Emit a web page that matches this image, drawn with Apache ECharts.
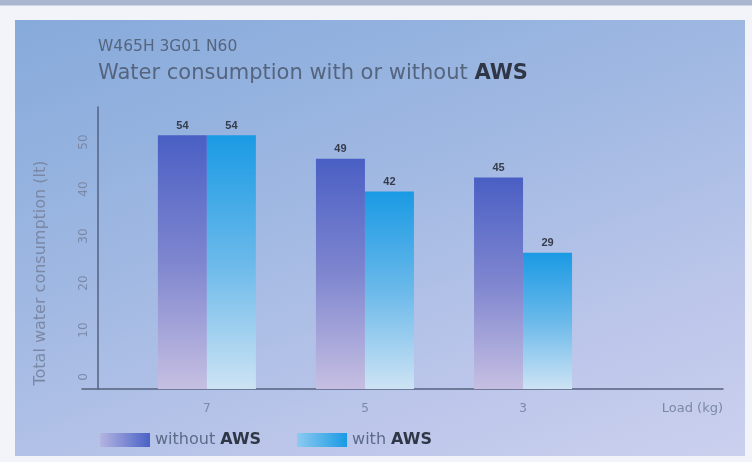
<!DOCTYPE html>
<html>
<head>
<meta charset="utf-8">
<script src="https://cdn.jsdelivr.net/npm/echarts@6/dist/echarts.min.js"></script>
<style>
  html, body { margin: 0; padding: 0; }
  body { width: 752px; height: 462px; position: relative; overflow: hidden;
         background: linear-gradient(180deg, #aab6cf 0px, #aab6cf 5px, #f2f4fa 6px); }
  #panel { position: absolute; left: 15px; top: 20px; width: 730px; height: 436px;
           background: linear-gradient(160deg, #86aadb 0%, #9fb8e2 40%, #bcc6ea 75%, #cbd0ee 100%); }
  #chart { position: absolute; left: 0; top: 0; width: 752px; height: 462px; }
</style>
</head>
<body>
<div id="panel"></div>
<div id="chart"></div>
<script>
// load (kg) for each group, left to right
const loads = [7, 5, 3]
const withoutAws = [54, 49, 45]
const withAws = [54, 42, 29]
const yTicks = [0, 10, 20, 30, 40, 50]

const chart = echarts.init(document.getElementById('chart'))

const fontFamily = '"DejaVu Sans", "Liberation Sans", sans-serif'
const labelFont = '"Liberation Sans", Arial, sans-serif'

// value labels above the bars
const labelOpts = {
  show: true,
  position: 'top',
  distance: 4,
  formatter: p => p.value[1],
  color: '#363c4c',
  fontSize: 11,
  fontWeight: 'bold',
  fontFamily: labelFont
}

const option = {
  backgroundColor: 'transparent',
  title: {
    left: 93,
    top: 34,
    text: 'W465H 3G01 N60',
    subtext: '{n|Water consumption with or without }{b|AWS}',
    itemGap: 8,
    textStyle: { color: '#56657f', fontSize: 15.5, fontWeight: 'normal', fontFamily },
    subtextStyle: {
      rich: {
        n: { color: '#56657f', fontSize: 21, fontFamily },
        b: { color: '#2f3747', fontSize: 21, fontWeight: 'bold', fontFamily }
      }
    }
  },
  legend: {
    left: 95,
    top: 427,
    itemWidth: 50,
    itemHeight: 14,
    itemGap: 36,
    icon: 'rect',
    data: [
      {
        name: 'without AWS',
        itemStyle: {
          color: new echarts.graphic.LinearGradient(0, 0, 1, 0, [
            { offset: 0, color: '#b4b4e0' },
            { offset: 1, color: '#4a62c6' }
          ])
        }
      },
      {
        name: 'with AWS',
        itemStyle: {
          color: new echarts.graphic.LinearGradient(0, 0, 1, 0, [
            { offset: 0, color: '#8ccaf0' },
            { offset: 1, color: '#1a9ae4' }
          ])
        }
      }
    ],
    formatter: name => '{n|' + name.replace(' AWS', ' ') + '}{b|AWS}',
    textStyle: {
      rich: {
        n: { color: '#5d6b88', fontSize: 16, fontFamily },
        b: { color: '#2f3747', fontSize: 16, fontWeight: 'bold', fontFamily }
      }
    }
  },
  grid: {
    left: 82,
    right: 29,
    top: 107,
    bottom: 73
  },
  xAxis: {
    type: 'value',
    inverse: true,
    min: 0.47,
    max: 8.58,
    name: 'Load (kg)',
    nameLocation: 'start',
    nameGap: 0,
    nameTextStyle: {
      color: '#7b88a6', fontSize: 13, fontFamily,
      align: 'right', verticalAlign: 'top', padding: [13, 0, 0, 0]
    },
    axisLine: { lineStyle: { color: '#56627f', width: 1.5 } },
    axisTick: { show: false },
    splitLine: { show: false },
    axisLabel: {
      customValues: loads,
      color: '#7b88a6',
      fontSize: 12,
      fontFamily,
      margin: 14
    }
  },
  yAxis: {
    type: 'value',
    min: 0,
    max: 60,
    interval: 10,
    offset: -16,
    name: 'Total water consumption (lt)',
    nameLocation: 'middle',
    nameRotate: 90,
    nameGap: 49,
    nameTextStyle: { color: '#7b88a6', fontSize: 16, fontFamily, padding: [0, 50, 0, 0] },
    axisLine: { show: true, lineStyle: { color: '#56627f', width: 1.5 } },
    axisTick: { show: false },
    splitLine: { show: false },
    axisLabel: {
      rotate: 90,
      color: '#7b88a6',
      fontSize: 12,
      fontFamily,
      margin: 8,
      padding: [0, 0, 0, 24],
      formatter: v => (yTicks.indexOf(v) >= 0 ? String(v) : '')
    }
  },
  series: [
    {
      name: 'without AWS',
      type: 'bar',
      barWidth: 49,
      barGap: '0%',
      data: loads.map((l, i) => [l, withoutAws[i]]),
      itemStyle: {
        color: new echarts.graphic.LinearGradient(0, 0, 0, 1, [
          { offset: 0, color: '#4a5fc4' },
          { offset: 0.5, color: '#7f86cf' },
          { offset: 1, color: '#c6bfe2' }
        ])
      },
      label: labelOpts
    },
    {
      name: 'with AWS',
      type: 'bar',
      barWidth: 49,
      data: loads.map((l, i) => [l, withAws[i]]),
      itemStyle: {
        color: new echarts.graphic.LinearGradient(0, 0, 0, 1, [
          { offset: 0, color: '#1a9ae4' },
          { offset: 0.5, color: '#6ab9ea' },
          { offset: 1, color: '#cde3f4' }
        ])
      },
      label: labelOpts
    }
  ]
}

chart.setOption(option)
</script>
</body>
</html>
